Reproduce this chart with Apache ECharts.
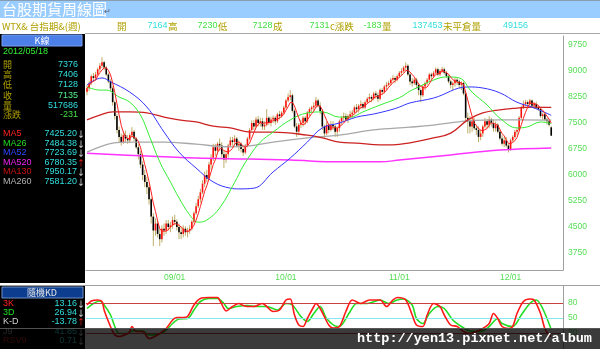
<!DOCTYPE html>
<html><head><meta charset="utf-8">
<script src="https://cdn.jsdelivr.net/npm/echarts@6/dist/echarts.min.js"></script>
<style>html,body{margin:0;padding:0;background:#fff}#c{width:600px;height:349px}</style>
</head><body><div id="c"></div>
<script>
// ---- data (weekly candles, 2008/03/21 .. 2012/05/18) ----
const opens = [8400,8500,8650,8850,8800,8900,9050,9150,9250,9100,
 8900,8700,8500,8100,7700,7300,7100,6950,7150,7050,
 7000,7150,7250,7050,6800,6600,6300,6000,5800,5650,
 5300,4800,4400,4600,4300,4150,4450,4400,4600,4500,
 4550,4700,4650,4500,4350,4300,4450,4350,4400,4450,
 4650,4900,5100,5300,5500,5750,6000,5900,6300,6500,
 6800,6700,6900,6850,6600,6450,6600,6850,7000,6950,
 7050,6850,6900,6750,6650,6850,7050,7300,7500,7400,
 7600,7500,7550,7400,7450,7650,7500,7600,7650,7550,
 7750,7700,7800,7950,8150,8250,8300,7850,7400,7250,
 7450,7500,7650,7550,7800,7900,7950,8000,8150,8000,
 7850,7400,7200,7450,7300,7450,7400,7250,7350,7550,
 7650,7700,7600,7700,7750,7800,7950,7900,8000,8050,
 7950,8100,8200,8250,8200,8350,8300,8200,8450,8400,
 8550,8600,8650,8750,8800,8750,8850,8950,9000,9100,
 9150,8900,8700,8650,8750,8600,8450,8300,8550,8650,
 8750,8900,8850,8950,9050,8900,9000,9050,8950,8850,
 8700,8600,8650,8750,8700,8600,8650,8350,7650,7550,
 7400,7550,7350,7300,7100,7200,7400,7550,7450,7600,
 7500,7350,7450,7250,7050,6900,7000,6850,6750,7000,
 7100,7250,7300,7650,7950,8050,8100,8050,8150,8000,
 8050,7950,7900,7700,7750,7600,7550,7376];
const closes = [8500,8650,8850,8800,8900,9050,9150,9250,9100,8900,
 8700,8500,8100,7700,7300,7100,6950,7150,7050,7000,
 7150,7250,7050,6800,6600,6300,6000,5800,5650,5300,
 4800,4400,4600,4300,4150,4450,4400,4600,4500,4550,
 4700,4650,4500,4350,4300,4450,4350,4400,4450,4650,
 4900,5100,5300,5500,5750,6000,5900,6300,6500,6800,
 6700,6900,6850,6600,6450,6600,6850,7000,6950,7050,
 6850,6900,6750,6650,6850,7050,7300,7500,7400,7600,
 7500,7550,7400,7450,7650,7500,7600,7650,7550,7750,
 7700,7800,7950,8150,8250,8300,7850,7400,7250,7450,
 7500,7650,7550,7800,7900,7950,8000,8150,8000,7850,
 7400,7200,7450,7300,7450,7400,7250,7350,7550,7650,
 7700,7600,7700,7750,7800,7950,7900,8000,8050,7950,
 8100,8200,8250,8200,8350,8300,8200,8450,8400,8550,
 8600,8650,8750,8800,8750,8850,8950,9000,9100,9150,
 8900,8700,8650,8750,8600,8450,8300,8550,8650,8750,
 8900,8850,8950,9050,8900,9000,9050,8950,8850,8700,
 8600,8650,8750,8700,8600,8650,8350,7650,7550,7400,
 7550,7350,7300,7100,7200,7400,7550,7450,7600,7500,
 7350,7450,7250,7050,6900,7000,6850,6750,7000,7100,
 7250,7300,7650,7950,8050,8100,8050,8150,8000,8050,
 7950,7900,7700,7750,7600,7550,7450,7135];
const highs = [8600,8720,8900,8950,8980,9100,9230,9400,9300,9150,
 8950,8760,8560,8150,7760,7400,7200,7250,7280,7150,
 7200,7380,7300,7100,6900,6700,6400,6150,5950,5720,
 5350,4900,4750,4700,4450,4550,4600,4700,4700,4650,
 4800,4850,4720,4600,4500,4550,4520,4480,4550,4700,
 4950,5200,5400,5600,5850,6100,6150,6380,6600,6900,
 6900,6950,7050,6950,6700,6700,6900,7100,7100,7150,
 7100,7000,6950,6800,6900,7100,7350,7580,7580,7680,
 7700,7650,7650,7550,7900,7700,7680,7720,7700,7800,
 7850,7850,8000,8200,8350,8450,8350,7900,7500,7500,
 7600,7700,7700,7850,7950,8000,8100,8250,8200,8100,
 7900,7450,7550,7500,7550,7550,7450,7400,7600,7700,
 7800,7780,7750,7850,7880,8000,8050,8050,8150,8100,
 8150,8250,8350,8300,8400,8420,8380,8500,8500,8600,
 8680,8720,8800,8880,8850,8900,9000,9080,9150,9250,
 9200,8950,8800,8800,8800,8650,8500,8600,8700,8800,
 8950,8950,9000,9100,9100,9050,9120,9100,9000,8900,
 8750,8700,8800,8800,8750,8700,8700,8400,7800,7700,
 7650,7650,7450,7400,7300,7450,7650,7620,7700,7650,
 7600,7550,7500,7300,7150,7100,7100,6900,7050,7150,
 7300,7350,7700,8000,8150,8170,8150,8200,8180,8100,
 8120,8000,7950,7800,7800,7650,7600,7406];
const lows = [8300,8420,8600,8700,8720,8850,8980,9080,9020,8850,
 8650,8420,8000,7600,7200,6950,6850,6900,6950,6900,
 6920,7080,6980,6750,6450,6200,5850,5650,5450,5150,
 4600,3950,4250,4200,3950,4050,4250,4300,4400,4350,
 4450,4550,4400,4150,4150,4200,4250,4200,4300,4400,
 4600,4850,5050,5200,5450,5650,5800,5850,6150,6400,
 6550,6600,6700,6500,6200,6350,6500,6800,6850,6850,
 6800,6700,6650,6550,6600,6800,7000,7250,7300,7350,
 7400,7400,7300,7300,7400,7450,7400,7500,7450,7500,
 7600,7650,7750,7900,8100,8150,7800,7350,7100,7150,
 7350,7400,7450,7500,7700,7800,7850,7950,7950,7750,
 7300,7050,7150,7200,7250,7300,7100,7100,7250,7450,
 7550,7550,7500,7600,7650,7750,7800,7800,7900,7900,
 7900,8050,8100,8100,8150,8200,8100,8150,8300,8350,
 8450,8550,8600,8700,8650,8700,8800,8880,8950,9000,
 8850,8600,8550,8600,8500,8300,8100,8250,8450,8600,
 8700,8750,8800,8900,8850,8850,8950,8900,8800,8650,
 8500,8450,8550,8600,8500,8450,8300,7550,7200,7200,
 7250,7300,7150,6950,7000,7100,7350,7350,7350,7400,
 7250,7250,7200,7000,6850,6800,6800,6650,6700,6950,
 7050,7150,7250,7600,7900,7980,7950,8000,7950,7900,
 7900,7850,7650,7600,7550,7450,7400,7128];

// moving averages as [week index, value]
const ma26 = [[0,8540],[6,8450],[9,8450],[15,8250],[20,8100],[25,7730],[29,7150],[34,6380],[39,5800],[43,5340],[48,4850],[52,4640],[56,4700],[62,5050],[70,5900],[72,6150],[76,6550],[81,6950],[87,7240],[95,7590],[103,7790],[110,7820],[118,7670],[123,7670],[129,7820],[137,8020],[146,8230],[151,8420],[154,8510],[162,8740],[168,8830],[174,8800],[180,8390],[187,8020],[193,7640],[201,7360],[206,7390],[212,7530],[217,7484]];
const ma52 = [[0,8600],[7,8800],[11,8690],[20,8390],[28,7960],[36,7240],[43,6660],[51,6200],[59,5800],[67,5620],[71,5600],[78,5620],[87,6090],[95,6490],[103,6950],[110,7360],[118,7500],[126,7670],[134,7760],[142,7880],[146,7960],[151,8080],[162,8220],[178,8540],[185,8510],[193,8370],[201,8100],[208,7960],[217,7724]];
const ma130 = [[0,7590],[6,7730],[12,7820],[20,7820],[28,7790],[36,7670],[43,7590],[51,7530],[59,7410],[67,7360],[76,7240],[87,7240],[103,7150],[110,7070],[118,6950],[126,6920],[137,6870],[143,6870],[151,6930],[162,7070],[170,7210],[178,7590],[185,7790],[193,7880],[201,7930],[208,7960],[217,7950]];
const ma260 = [[0,6660],[6,6810],[12,6920],[20,6950],[36,6950],[51,6890],[67,6810],[76,6840],[87,6950],[103,7070],[118,7150],[134,7300],[151,7380],[162,7440],[178,7560],[193,7590],[217,7581]];
const ma520 = [[0,6630],[28,6545],[51,6490],[76,6460],[95,6430],[118,6380],[137,6380],[146,6430],[170,6580],[193,6720],[217,6780]];
// KD oscillator as [week index, value]
const kLine = [[0,76],[2,84],[5,86],[7,83],[8,66],[10,43],[12,23],[13,16],[15,13],[19,19],[20,23],[21,33],[23,23],[26,23],[29,9],[33,16],[37,29],[40,46],[42,51],[45,51],[47,53],[50,76],[53,89],[57,91],[61,91],[62,86],[64,69],[65,64],[68,73],[71,79],[73,75],[75,73],[78,73],[82,79],[84,73],[87,63],[90,66],[93,86],[95,88],[97,56],[99,36],[101,33],[103,49],[106,73],[107,79],[109,69],[113,36],[115,30],[118,33],[121,63],[124,86],[128,79],[132,86],[137,86],[140,73],[143,86],[145,91],[149,86],[152,56],[154,36],[157,33],[159,56],[162,79],[165,73],[167,56],[170,36],[173,33],[176,23],[179,19],[182,23],[185,29],[188,39],[190,59],[192,49],[194,33],[197,29],[199,33],[201,59],[204,83],[207,88],[209,86],[212,59],[214,29],[216,16],[217,13.16]];
const dLine = [[0,69],[3,79],[6,84],[8,76],[11,56],[13,33],[15,19],[19,19],[21,24],[26,24],[29,16],[33,17],[37,26],[40,39],[43,48],[47,49],[50,66],[53,83],[57,89],[61,89],[64,79],[66,69],[70,73],[75,75],[79,73],[84,73],[89,66],[93,79],[96,76],[100,53],[103,43],[106,59],[109,73],[112,49],[117,33],[118,33],[123,63],[126,79],[131,79],[137,86],[141,79],[145,86],[148,88],[152,76],[154,49],[157,39],[160,59],[164,73],[167,69],[171,46],[175,33],[179,24],[184,23],[188,33],[192,49],[194,39],[199,33],[203,56],[207,79],[210,86],[213,69],[217,26.94]];
const priceTicks = [3750,4500,5250,6000,6750,7500,8250,9000,9750];
const kdTicks = [20,50,80];
const yearLabels = ['09/01','10/01','11/01','12/01'];

// categories: weekly dates
const cats = [];
{ let t = Date.UTC(2008,2,21);
  for (let i = 0; i < closes.length; i++) {
    const d = new Date(t + i*7*86400000);
    cats.push(d.getUTCFullYear()+'/'+String(d.getUTCMonth()+1).padStart(2,'0')+'/'+String(d.getUTCDate()).padStart(2,'0'));
  }
  for (let k = 0; k < 5; k++) cats.push('');
}
const fmtCat = v => v ? v.slice(2,4)+'/'+v.slice(5,7) : '';
const showCat = (idx, v) => !!v && +v.slice(8,10) <= 7 && yearLabels.includes(fmtCat(v));

// MA5 from closes
const ma5 = closes.map((c,i)=>{ const s = closes.slice(Math.max(0,i-4), i+1); return +(s.reduce((a,b)=>a+b,0)/s.length).toFixed(2); });

const candleData = closes.map((c,i)=>[i, opens[i], c, lows[i], highs[i]]);

const CJK = '"Noto Sans CJK TC","Noto Sans",sans-serif';
const SANS = 'Arial,"Liberation Sans",sans-serif';
function txt(x,y,s,color,size,align,font,extra){
  return Object.assign({type:'text', x, y, z:50, style:{text:s, fill:color, font:(size||9)+'px '+(font||CJK), textAlign:align||'left', textVerticalAlign:'middle'}}, extra||{});
}
function line(x1,y1,x2,y2,color,z){ return {type:'line', z:z||40, shape:{x1,y1,x2,y2}, style:{stroke:color, lineWidth:1}}; }

const OLIVE = '#b0a000', CYAN = '#33dddd', GRN = '#44e044';
const graphics = [
  // title bar
  {type:'rect', z:1, shape:{x:0,y:0,width:600,height:18}, style:{fill:'#99ccff'}},
  line(0,0.5,600,0.5,'#8a9cb0'),
  txt(2,9.5,'台股期貨周線圖','#ffffff',15),
  txt(104,11,'↵','#556',8),
  // info row
  txt(2,26,'WTX& 台指期&(週)',OLIVE,9.5),
  txt(117,26,'開',OLIVE,9.5),
  txt(167.5,26,'7164',CYAN,9,'right',SANS), txt(168,26,'高',OLIVE,9.5),
  txt(217.5,26,'7230',GRN,9,'right',SANS), txt(218,26,'低',OLIVE,9.5),
  txt(272.5,26,'7128',GRN,9,'right',SANS), txt(273,26,'成',OLIVE,9.5),
  txt(329.5,26,'7131',GRN,9,'right',SANS), txt(330,26,'c漲跌',OLIVE,9.5),
  txt(381.5,26,'-183',GRN,9,'right',SANS), txt(382,26,'量',OLIVE,9.5),
  txt(442.5,26,'137453',CYAN,9,'right',SANS), txt(443,26,'未平倉量',OLIVE,9.5),
  txt(503,26,'49156',CYAN,9,'left',SANS),
  line(85,33.5,600,33.5,'#a8a8a8'),
  // left black panel
  {type:'rect', z:1, shape:{x:0,y:34,width:85,height:315}, style:{fill:'#000'}},
  {type:'rect', z:2, shape:{x:2,y:35,width:80,height:11}, style:{fill:'#4d7fe8', stroke:'#7aa0f0', lineWidth:1}},
  txt(42,40.5,'K線','#ffffff',9,'center'),
  txt(3,52,'2012/05/18','#33ee33',9,'left',SANS),
  txt(3,65,'開',OLIVE,9), txt(78,65,'7376',CYAN,9,'right',SANS),
  txt(3,75,'高',OLIVE,9), txt(78,75,'7406',CYAN,9,'right',SANS),
  txt(3,85,'低',OLIVE,9), txt(78,85,'7128',CYAN,9,'right',SANS),
  txt(3,96,'收',OLIVE,9), txt(78,96,'7135','#55ee88',9,'right',SANS),
  txt(3,106,'量',OLIVE,9), txt(78,106,'517686',CYAN,9,'right',SANS),
  txt(3,115,'漲跌',OLIVE,9), txt(78,115,'-231',GRN,9,'right',SANS),
  txt(3,134,'MA5','#ff2222',9,'left',SANS), txt(77,134,'7425.20',CYAN,9,'right',SANS), txt(81,134,'↓','#fff',8,'center'),
  txt(3,144,'MA26','#22dd22',9,'left',SANS), txt(77,144,'7484.38',CYAN,9,'right',SANS), txt(81,144,'↓','#fff',8,'center'),
  txt(3,153,'MA52','#3344ff',9,'left',SANS), txt(77,153,'7723.69',CYAN,9,'right',SANS), txt(81,153,'↓','#fff',8,'center'),
  txt(3,163,'MA520','#ee22ee',9,'left',SANS), txt(77,163,'6780.35',CYAN,9,'right',SANS), txt(81,163,'↑','#ff2222',8,'center'),
  txt(3,172,'MA130','#cc1111',9,'left',SANS), txt(77,172,'7950.17',CYAN,9,'right',SANS), txt(81,172,'↓','#fff',8,'center'),
  txt(3,182,'MA260','#b0b0b0',9,'left',SANS), txt(77,182,'7581.20',CYAN,9,'right',SANS), txt(81,182,'↓','#fff',8,'center'),
  // separators
  {type:'rect', z:2, shape:{x:0,y:283,width:600,height:3}, style:{fill:'#ffffff'}},
  line(0,285.5,600,285.5,'#a0a0a0'),
  {type:'rect', z:3, shape:{x:2,y:287,width:81,height:11}, style:{fill:'#0d3d8f', stroke:'#6f8fc8', lineWidth:1}},
  txt(42,292.5,'隨機KD','#e8e8e8',9,'center'),
  txt(3,304,'3K','#ff2222',9,'left',SANS), txt(77,304,'13.16',CYAN,9,'right',SANS), txt(81,304,'↓','#fff',8,'center'),
  txt(3,313,'3D','#22dd22',9,'left',SANS), txt(77,313,'26.94',CYAN,9,'right',SANS), txt(81,313,'↓','#fff',8,'center'),
  txt(3,322,'K-D','#d0d0d0',9,'left',SANS), txt(77,322,'-13.78',CYAN,9,'right',SANS), txt(81,322,'↑','#ff2222',8,'center'),
  txt(3,332,'J9','#b0b0b0',9,'left',SANS), txt(77,332,'41.85',CYAN,9,'right',SANS), txt(81,332,'↓','#fff',8,'center'),
  txt(3,341,'RSV9','#cc2222',9,'left',SANS), txt(77,341,'0.71',CYAN,9,'right',SANS), txt(81,341,'↓','#fff',8,'center'),
  // watermark band
  {type:'rect', z:100, shape:{x:0,y:328,width:600,height:21}, style:{fill:'rgba(0,0,0,0.77)'}},
  line(0,328.5,600,328.5,'rgba(90,90,90,0.9)',101),
  {type:'text', z:102, x:357, y:338.5, style:{text:'http://yen13.pixnet.net/album', fill:'#ffffff', font:'bold 13.5px "Liberation Mono","DejaVu Sans Mono",monospace', textVerticalAlign:'middle'}}
];

const chart = echarts.init(document.getElementById('c'), null, {renderer:'canvas'});
const GL = 85.93, GR = 37;
chart.setOption({
  animation:false,
  backgroundColor:'#ffffff',
  grid:[
    {left:GL, right:GR, top:36, height:234},
    {left:GL, right:GR, top:286, height:63}
  ],
  xAxis:[
    {type:'category', gridIndex:0, data:cats, boundaryGap:true,
     axisLine:{show:true, lineStyle:{color:'#a0a0a0', width:1}}, axisTick:{show:false},
     axisLabel:{interval:showCat, formatter:fmtCat, color:'#55dd55', fontSize:8.5, margin:3, fontFamily:SANS},
     splitLine:{show:false}},
    {type:'category', gridIndex:1, data:cats, boundaryGap:true,
     axisLine:{show:false}, axisTick:{show:false}, axisLabel:{show:false}, splitLine:{show:false}}
  ],
  yAxis:[
    {type:'value', gridIndex:0, position:'right', min:3260, max:10010,
     axisLine:{show:true, lineStyle:{color:'#a0a0a0'}}, axisTick:{show:false}, splitLine:{show:false},
     axisLabel:{customValues:priceTicks, formatter:v=>String(v), color:'#55dd55', fontSize:8.5, margin:5, fontFamily:SANS}},
    {type:'value', gridIndex:1, position:'right', min:-12, max:114,
     axisLine:{show:true, lineStyle:{color:'#a0a0a0'}}, axisTick:{show:false}, splitLine:{show:false},
     axisLabel:{customValues:kdTicks, formatter:v=>String(v), color:'#55dd55', fontSize:8.5, margin:5, fontFamily:SANS}}
  ],
  series:[
    {type:'custom', xAxisIndex:0, yAxisIndex:0, z:2, data:candleData, encode:{x:0, y:[1,2,3,4]},
     renderItem:(params, api)=>{
       const i = api.value(0);
       const o = api.coord([i, api.value(1)]), c = api.coord([i, api.value(2)]);
       const l = api.coord([i, api.value(3)]), h = api.coord([i, api.value(4)]);
       const x = o[0], up = api.value(2) >= api.value(1);
       const top = Math.min(o[1], c[1]), ht = Math.max(1, Math.abs(o[1]-c[1]));
       return {type:'group', children:[
         {type:'line', shape:{x1:x, y1:h[1], x2:x, y2:l[1]}, style:{stroke:'#bfae6a', lineWidth:1}},
         {type:'rect', shape:{x:x-0.8, y:top, width:1.6, height:ht}, style:{fill: up ? '#ff1010' : '#000000'}}
       ]};
     }},
    {type:'line', name:'MA520', data:ma520, smooth:0.4, showSymbol:false, z:3, lineStyle:{color:'#ff33ff', width:1.5}},
    {type:'line', name:'MA260', data:ma260, smooth:0.4, showSymbol:false, z:3, lineStyle:{color:'#a8a8a8', width:1.3}},
    {type:'line', name:'MA130', data:ma130, smooth:0.4, showSymbol:false, z:3, lineStyle:{color:'#cc2222', width:1.3}},
    {type:'line', name:'MA52', data:ma52, smooth:0.4, showSymbol:false, z:4, lineStyle:{color:'#3333ff', width:1}},
    {type:'line', name:'MA26', data:ma26, smooth:0.4, showSymbol:false, z:4, lineStyle:{color:'#33ee33', width:1}},
    {type:'line', name:'MA5', data:ma5, smooth:false, showSymbol:false, z:5, lineStyle:{color:'#ff2020', width:1}},
    {type:'line', name:'K', xAxisIndex:1, yAxisIndex:1, data:kLine, smooth:0.3, showSymbol:false, z:5, lineStyle:{color:'#ff1a1a', width:1.6},
     markLine:{silent:true, symbol:'none', label:{show:false}, animation:false,
       data:[{yAxis:80, lineStyle:{color:'#c84040', width:1, type:'solid'}},
             {yAxis:50, lineStyle:{color:'#88e8f0', width:1, type:'solid'}},
             {yAxis:20, lineStyle:{color:'#c84040', width:1, type:'solid'}}]}},
    {type:'line', name:'D', xAxisIndex:1, yAxisIndex:1, data:dLine, smooth:0.3, showSymbol:false, z:4, lineStyle:{color:'#22dd22', width:1.6}}
  ],
  graphic: graphics
});
</script></body></html>
